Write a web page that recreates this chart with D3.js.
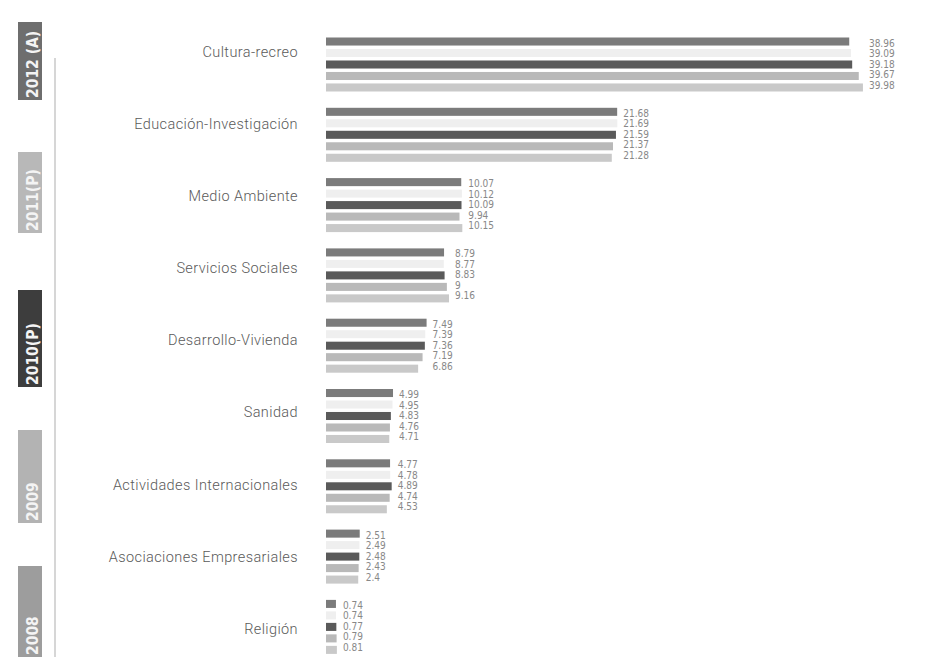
<!DOCTYPE html>
<meta charset="utf-8">
<script src="https://cdn.jsdelivr.net/npm/d3@7"></script>
<body style="margin:0;background:#fff">
<script>
    var W = 947, H = 657;

    // data
    var categories = ["Cultura-recreo", "Educación-Investigación", "Medio Ambiente", "Servicios Sociales",
        "Desarrollo-Vivienda", "Sanidad", "Actividades Internacionales", "Asociaciones Empresariales", "Religión"];
    var years = ["2012 (A)", "2011(P)", "2010(P)", "2009", "2008"];
    var v2012 = [38.96, 21.68, 10.07, 8.79, 7.49, 4.99, 4.77, 2.51, 0.74];
    var v2011 = [39.09, 21.69, 10.12, 8.77, 7.39, 4.95, 4.78, 2.49, 0.74];
    var v2010 = [39.18, 21.59, 10.09, 8.83, 7.36, 4.83, 4.89, 2.48, 0.77];
    var v2009 = [39.67, 21.37, 9.94, 9, 7.19, 4.76, 4.74, 2.43, 0.79];
    var v2008 = [39.98, 21.28, 10.15, 9.16, 6.86, 4.71, 4.53, 2.4, 0.81];
    var labels2012 = ["38.96", "21.68", "10.07", "8.79", "7.49", "4.99", "4.77", "2.51", "0.74"];

    var series = [v2012, v2011, v2010, v2009, v2008];
    var barColors = ["#7b7b7b", "#efefef", "#5a5a5a", "#b9b9b9", "#c9c9c9"];
    var legendColors = ["#6e6e6e", "#b8b8b8", "#3d3d3d", "#b3b3b3", "#9d9d9d"];

    var svg = d3.select("body").append("svg")
        .attr("width", W)
        .attr("height", H)
        .style("display", "block");

    // scales
    var x = d3.scaleLinear().domain([0, 40]).range([326, 863.2]);
    var yGroup = d3.scaleBand().domain(categories).range([37.5, 670.2]);
    var yBar = d3.scaleBand().domain(d3.range(5)).range([0, 54]).paddingInner(0.3).paddingOuter(0);
    var yLabel = d3.scalePoint().domain(categories).range([53, 630]);

    // legend line
    svg.append("line")
        .attr("x1", 55).attr("x2", 55)
        .attr("y1", 58).attr("y2", H)
        .attr("stroke", "#c8c8c8").attr("stroke-width", 1.5);

    // legend boxes
    var legendBoxes = [[22, 100], [152, 233], [290, 387], [430, 523], [566, 660]];
    var lg = svg.selectAll(".lg").data(years).enter().append("g").attr("class", "lg");
    lg.append("rect")
        .attr("x", 18).attr("width", 24)
        .attr("y", function(d, i) { return legendBoxes[i][0]; })
        .attr("height", function(d, i) { return legendBoxes[i][1] - legendBoxes[i][0]; })
        .attr("fill", function(d, i) { return legendColors[i]; });
    lg.append("text")
        .attr("transform", function(d, i) {
            return "translate(37.5," + (Math.min(legendBoxes[i][1], H) - 2) + ") rotate(-90)";
        })
        .attr("font-family", "DejaVu Sans Condensed, Roboto, sans-serif")
        .attr("font-weight", "bold")
        .attr("font-size", 15.5)
        .attr("fill", "#f4f4f4")
        .text(function(d) { return d; });

    // category labels
    svg.selectAll(".cat").data(categories).enter().append("text")
        .attr("class", "cat")
        .attr("x", 298)
        .attr("y", function(d) { return yLabel(d); })
        .attr("text-anchor", "end")
        .attr("dominant-baseline", "middle")
        .attr("font-family", "Roboto, sans-serif")
        .attr("font-weight", 300)
        .attr("font-size", 14.5)
        .attr("letter-spacing", 0.4)
        .attr("fill", "#5a5a5a")
        .text(function(d) { return d; });

    // groups
    var groups = svg.selectAll(".grp").data(categories).enter().append("g")
        .attr("class", "grp")
        .attr("transform", function(d) { return "translate(0," + yGroup(d) + ")"; });

    groups.each(function(cat, ci) {
        var g = d3.select(this);
        var vals = series.map(function(s) { return s[ci]; });
        g.selectAll("rect").data(vals).enter().append("rect")
            .attr("x", x(0))
            .attr("y", function(d, i) { return yBar(i); })
            .attr("height", yBar.bandwidth())
            .attr("width", function(d) { return x(d) - x(0); })
            .attr("fill", function(d, i) { return barColors[i]; });
        var lx = x(d3.max(vals)) + 6;
        g.selectAll(".val").data(vals).enter().append("text")
            .attr("class", "val")
            .attr("x", lx)
            .attr("y", function(d, i) { return 6 + i * 10.5; })
            .attr("dominant-baseline", "middle")
            .attr("font-family", "DejaVu Sans Condensed, sans-serif")
            .attr("font-size", 10)
            .attr("fill", "#888")
            .text(function(d, i) { return i === 0 ? labels2012[ci] : d; });
    });
</script>
</body>
